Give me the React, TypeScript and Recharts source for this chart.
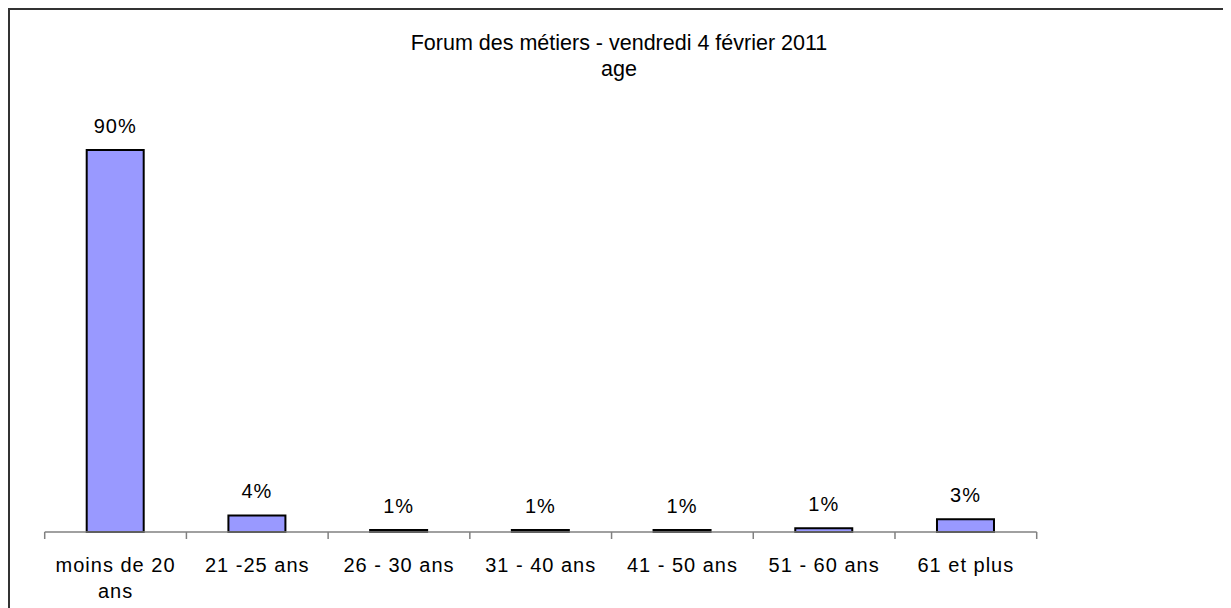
import { BarChart, Bar, XAxis, YAxis, LabelList } from 'recharts';

// age groups of the visitors, share in percent
const categories = [
  'moins de 20 ans',
  '21 -25 ans',
  '26 - 30 ans',
  '31 - 40 ans',
  '41 - 50 ans',
  '51 - 60 ans',
  '61 et plus',
];
const shares = [90, 3.9, 0.5, 0.5, 0.5, 0.9, 3.0];
const titleLines = ['Forum des métiers - vendredi 4 février 2011', 'age'];

const data = categories.map((name, i) => ({ name, share: shares[i] }));

const FONT = '"Liberation Sans", Arial, Helvetica, sans-serif';
const CHART_W = 1221;
const CHART_H = 598;
const MARGIN = { top: 97.6, right: 194.3, bottom: 6, left: 34.7 };
const BAND = (CHART_W - MARGIN.left - MARGIN.right) / categories.length;
const AXIS_GREY = '#808080';

// greedy word wrap, roughly what fits in one category
function wrap(label: string, maxChars = 12) {
  const lines: string[] = [];
  let cur = '';
  label.split(' ').forEach((w) => {
    const next = cur ? cur + ' ' + w : w;
    if (next.length > maxChars && cur) {
      lines.push(cur);
      cur = w;
    } else {
      cur = next;
    }
  });
  if (cur) lines.push(cur);
  return lines;
}

function AgeTick(props: any) {
  const { x, y, payload, index } = props;
  const lines = wrap(String(payload.value));
  const last = index === categories.length - 1;
  return (
    <g>
      <line x1={x - BAND / 2} x2={x - BAND / 2} y1={y} y2={y + 7} stroke={AXIS_GREY} strokeWidth={1.5} />
      {last && (
        <line x1={x + BAND / 2} x2={x + BAND / 2} y1={y} y2={y + 7} stroke={AXIS_GREY} strokeWidth={1.5} />
      )}
      <text
        x={x}
        y={y + 40}
        textAnchor="middle"
        fontFamily={FONT}
        fontSize={20}
        letterSpacing={1}
        fill="#000"
      >
        {lines.map((l, i) => (
          <tspan key={i} x={x} dy={i === 0 ? 0 : 26}>
            {l}
          </tspan>
        ))}
      </text>
    </g>
  );
}

function ShareLabel(props: any) {
  const { x, y, width, value } = props;
  return (
    <text
      x={x + width / 2}
      y={y - 17}
      textAnchor="middle"
      fontFamily={FONT}
      fontSize={20}
      letterSpacing={1}
      fill="#000"
    >
      {Math.round(value)}%
    </text>
  );
}

export default function App() {
  return (
    <div
      style={{
        position: 'relative',
        width: CHART_W,
        height: CHART_H,
        borderTop: '2px solid #333',
        borderLeft: '2px solid #333',
        background: '#fff',
      }}
    >
      <BarChart width={CHART_W} height={CHART_H} data={data} margin={MARGIN}>
        <XAxis
          dataKey="name"
          height={70}
          interval={0}
          tickSize={0}
          tickMargin={0}
          tickLine={false}
          axisLine={{ stroke: AXIS_GREY, strokeWidth: 1.5 }}
          tick={<AgeTick />}
        />
        <YAxis hide domain={[0, 100]} />
        <Bar
          dataKey="share"
          fill="#9999FF"
          stroke="#000"
          strokeWidth={2}
          barSize={57}
          isAnimationActive={false}
        >
          <LabelList dataKey="share" content={<ShareLabel />} />
        </Bar>
      </BarChart>
      <svg
        width={CHART_W}
        height={100}
        style={{ position: 'absolute', left: 0, top: 0, pointerEvents: 'none' }}
      >
        {titleLines.map((t, i) => (
          <text
            key={t}
            x={609}
            y={40 + i * 26}
            textAnchor="middle"
            fontFamily={FONT}
            fontSize={21.5}
            fill="#000"
          >
            {t}
          </text>
        ))}
      </svg>
    </div>
  );
}
